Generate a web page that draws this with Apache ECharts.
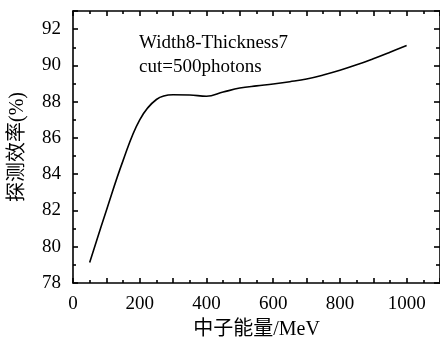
<!DOCTYPE html>
<html>
<head>
<meta charset="utf-8">
<script src="https://cdn.jsdelivr.net/npm/echarts@6/dist/echarts.min.js"></script>
<style>
  html, body { margin: 0; padding: 0; background: #fff; }
  #main { width: 440px; height: 345px; }
</style>
</head>
<body>
<div id="main"></div>
<script>
// energy (MeV) and detection efficiency (%)
var energy = [50, 100, 150, 200, 250, 300, 350, 400, 450, 500, 550, 600, 650, 700, 750, 800, 850, 900, 950, 1000]
var efficiency = [79.13, 82.0, 84.75, 87.0, 88.12, 88.38, 88.37, 88.3, 88.53, 88.75, 88.87, 88.97, 89.1, 89.25, 89.47, 89.73, 90.03, 90.37, 90.73, 91.1]
var noteLines = ['Width8-Thickness7', 'cut=500photons']

var serif = "'Liberation Serif', 'Times New Roman', serif"
var cjk = "'Liberation Serif', 'Noto Sans CJK SC', serif"

var chart = echarts.init(document.getElementById('main'))

var lineStyle = { color: '#000', width: 1.6 }

chart.setOption({
  backgroundColor: '#fff',
  animation: false,
  // right edge sits just past the canvas, like the cropped original
  grid: { left: 72, right: -2, top: 11, bottom: 58 },
  xAxis: [
    {
      type: 'value',
      min: 0,
      max: 1100,
      interval: 100,
      name: '中子能量/MeV',
      nameLocation: 'middle',
      nameGap: 37,
      nameTextStyle: { fontFamily: cjk, fontSize: 20, color: '#000' },
      axisLine: { show: true, onZero: false, lineStyle: lineStyle },
      axisTick: { show: true, inside: true, length: 5, lineStyle: lineStyle },
      minorTick: { show: true, splitNumber: 2, length: 3, lineStyle: lineStyle },
      splitLine: { show: false },
      axisLabel: {
        margin: 12,
        fontFamily: serif,
        fontSize: 19,
        color: '#000',
        showMaxLabel: false,
        formatter: function (v) { return v % 200 === 0 ? String(v) : '' }
      }
    },
    {
      type: 'value',
      position: 'top',
      min: 0,
      max: 1100,
      interval: 100,
      axisLine: { show: true, onZero: false, lineStyle: lineStyle },
      axisTick: { show: true, inside: true, length: 5, lineStyle: lineStyle },
      minorTick: { show: true, splitNumber: 2, length: 3, lineStyle: lineStyle },
      splitLine: { show: false },
      axisLabel: { show: false }
    }
  ],
  yAxis: [
    {
      type: 'value',
      min: 78,
      max: 93,
      interval: 2,
      name: '探测效率(%)',
      nameLocation: 'middle',
      nameGap: 45,
      nameRotate: 90,
      nameTextStyle: { fontFamily: cjk, fontSize: 20, color: '#000' },
      axisLine: { show: true, onZero: false, lineStyle: lineStyle },
      axisTick: { show: true, inside: true, length: 5, lineStyle: lineStyle },
      minorTick: { show: true, splitNumber: 2, length: 3, lineStyle: lineStyle },
      splitLine: { show: false },
      axisLabel: {
        margin: 12,
        fontFamily: serif,
        fontSize: 19,
        color: '#000',
        showMaxLabel: false
      }
    },
    {
      type: 'value',
      position: 'right',
      min: 78,
      max: 93,
      interval: 2,
      axisLine: { show: true, onZero: false, lineStyle: lineStyle },
      axisTick: { show: true, inside: true, length: 6, lineStyle: lineStyle },
      minorTick: { show: true, splitNumber: 2, length: 4, lineStyle: lineStyle },
      splitLine: { show: false },
      axisLabel: { show: false }
    }
  ],
  graphic: [
    {
      type: 'text',
      left: 139,
      top: 31,
      style: {
        text: noteLines.join('\n'),
        font: '19px ' + serif,
        lineHeight: 24,
        fill: '#000'
      }
    }
  ],
  series: [
    {
      type: 'line',
      xAxisIndex: 0,
      yAxisIndex: 0,
      smooth: 0.4,
      showSymbol: false,
      lineStyle: { color: '#000', width: 1.6 },
      data: energy.map(function (e, i) { return [e, efficiency[i]] })
    }
  ]
})
</script>
</body>
</html>
